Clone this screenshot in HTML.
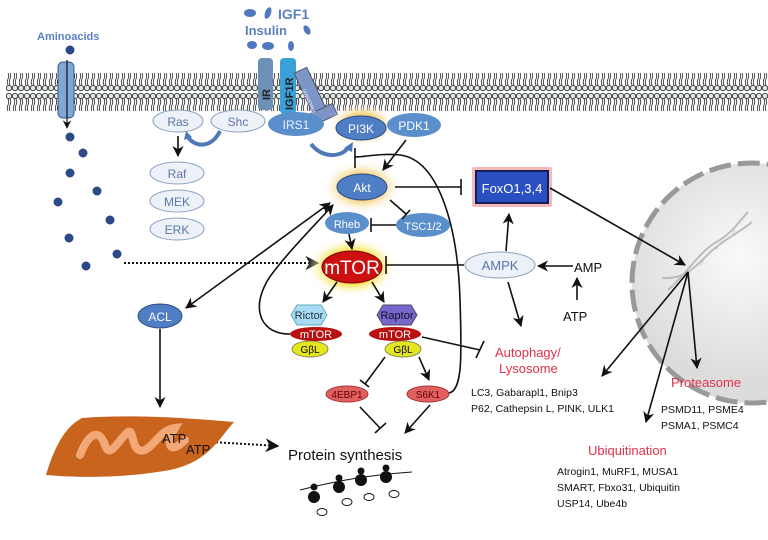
<!DOCTYPE html>
<html><head><meta charset="utf-8"><style>
html,body{margin:0;padding:0;background:#fff;}
svg{display:block;font-family:"Liberation Sans",Arial,sans-serif;}
</style></head><body>
<svg width="768" height="540" viewBox="0 0 768 540" xmlns="http://www.w3.org/2000/svg">
<defs>
<pattern id="lipid" x="0" y="0" width="6" height="46" patternUnits="userSpaceOnUse">
<circle cx="3" cy="4" r="2.7" fill="#dfe9e2" stroke="#333" stroke-width="0.9"/>
<path d="M2 7 q1.5 3 0 6 q-1.5 3 0 6 M4 7 q1.5 3 0 6 q-1.5 3 0 6" stroke="#222" stroke-width="0.8" fill="none"/>
<path d="M2 27 q1.5 3 0 6 q-1.5 3 0 6 M4 27 q1.5 3 0 6 q-1.5 3 0 6" stroke="#222" stroke-width="0.8" fill="none"/>
<circle cx="3" cy="42" r="2.7" fill="#dfe9e2" stroke="#333" stroke-width="0.9"/>
</pattern>
<marker id="ar" viewBox="0 0 10 10" refX="9" refY="5" markerWidth="7" markerHeight="7" orient="auto-start-reverse"><path d="M0 0 L10 5 L0 10 L3 5z" fill="#111"/></marker>
<radialGradient id="glow"><stop offset="0.5" stop-color="#f5d27a"/><stop offset="1" stop-color="#fff" stop-opacity="0"/></radialGradient>
<radialGradient id="glow2"><stop offset="0.55" stop-color="#f7e040"/><stop offset="1" stop-color="#fff" stop-opacity="0"/></radialGradient>
<radialGradient id="nuc" cx="0.45" cy="0.4"><stop offset="0" stop-color="#fafafa"/><stop offset="1" stop-color="#dcdcdc"/></radialGradient>
</defs>
<rect x="6" y="70" width="762" height="46" fill="url(#lipid)"/>
<circle cx="752" cy="283" r="120" fill="url(#nuc)" stroke="#999" stroke-width="5" stroke-dasharray="22 7"/>
<g stroke="#bbb" stroke-width="2" fill="none">
<path d="M668 290 C690 270 700 250 720 240 C735 230 740 220 748 212"/>
<path d="M662 278 C690 280 700 260 715 248 C730 236 740 232 752 222"/>
</g>
<g stroke="#ccc" stroke-width="1">
<line x1="675" y1="282" x2="672" y2="288"/><line x1="690" y1="272" x2="686" y2="280"/><line x1="705" y1="258" x2="700" y2="266"/><line x1="720" y1="243" x2="716" y2="250"/><line x1="735" y1="230" x2="731" y2="237"/>
</g>
<text x="37" y="40" font-size="11" font-weight="bold" fill="#5b80c0">Aminoacids</text>
<rect x="58" y="62" width="16" height="56" rx="5" fill="#7fa8d6" stroke="#3a5a88"/>
<line x1="67" y1="60" x2="67" y2="128" stroke="#111" stroke-width="1.2" marker-end="url(#ar)"/>
<g fill="#2c4a86">
<circle cx="70" cy="50" r="4.5"/><circle cx="70" cy="137" r="4.5"/><circle cx="83" cy="153" r="4.5"/><circle cx="70" cy="173" r="4.5"/><circle cx="97" cy="191" r="4.5"/><circle cx="58" cy="202" r="4.5"/><circle cx="110" cy="220" r="4.5"/><circle cx="69" cy="238" r="4.5"/><circle cx="117" cy="254" r="4.5"/><circle cx="86" cy="266" r="4.5"/>
</g>
<line x1="124" y1="263" x2="318" y2="263" stroke="#111" stroke-width="2" stroke-dasharray="2 2" marker-end="url(#ar)"/>
<text x="278" y="19" font-size="14" font-weight="bold" fill="#5b80c0">IGF1</text>
<text x="245" y="35" font-size="13" font-weight="bold" fill="#5b80c0">Insulin</text>
<g fill="#4f78c0">
<ellipse cx="250" cy="13" rx="6" ry="4"/><ellipse cx="268" cy="13" rx="3" ry="6" transform="rotate(20 268 13)"/><ellipse cx="307" cy="30" rx="3" ry="5" transform="rotate(-30 307 30)"/><ellipse cx="252" cy="45" rx="5" ry="4"/><ellipse cx="268" cy="46" rx="6" ry="4"/><ellipse cx="291" cy="46" rx="3" ry="5"/>
</g>
<rect x="258" y="58" width="15" height="52" rx="4" fill="#6d8fb8"/>
<text transform="translate(270 100) rotate(-90)" font-size="11" font-weight="bold" fill="#222">IR</text>
<rect x="280" y="58" width="16" height="56" rx="4" fill="#3aa0d8"/>
<text transform="translate(293 110) rotate(-90)" font-size="11" font-weight="bold" fill="#222">IGF1R</text>
<rect x="304" y="68" width="14" height="50" fill="#7e95c8" stroke="#556" transform="rotate(-25 311 93)"/>
<rect x="312" y="108" width="24" height="12" fill="#7e95c8" stroke="#556" transform="rotate(-25 324 114)"/>
<text transform="translate(316 112) rotate(-115)" font-size="6" fill="#eef">Pleckstrin</text>
<g font-size="12" text-anchor="middle">
<ellipse cx="178" cy="121" rx="25" ry="11" fill="#edf1f8" stroke="#8aa0c0"/><text x="178" y="126" fill="#5b76a8">Ras</text>
<ellipse cx="238" cy="121" rx="27" ry="11" fill="#edf1f8" stroke="#8aa0c0"/><text x="238" y="126" fill="#5b76a8">Shc</text>
<ellipse cx="296" cy="124" rx="28" ry="12" fill="#5b8fcc"/><text x="296" y="129" fill="#e8f0ff">IRS1</text>
<ellipse cx="362" cy="125" rx="34" ry="22" fill="url(#glow)"/>
<ellipse cx="361" cy="128" rx="25" ry="12" fill="#4f7ec4" stroke="#2c4a86"/><text x="361" y="133" fill="#fff">PI3K</text>
<ellipse cx="414" cy="125" rx="27" ry="12" fill="#5b8fcc"/><text x="414" y="130" fill="#fff">PDK1</text>
<ellipse cx="177" cy="173" rx="27" ry="11" fill="#edf1f8" stroke="#8aa0c0"/><text x="177" y="178" fill="#5b76a8">Raf</text>
<ellipse cx="177" cy="201" rx="27" ry="11" fill="#edf1f8" stroke="#8aa0c0"/><text x="177" y="206" fill="#5b76a8">MEK</text>
<ellipse cx="177" cy="229" rx="27" ry="11" fill="#edf1f8" stroke="#8aa0c0"/><text x="177" y="234" fill="#5b76a8">ERK</text>
<ellipse cx="362" cy="187" rx="40" ry="27" fill="url(#glow)"/>
<ellipse cx="362" cy="187" rx="25" ry="13" fill="#4f7ec4" stroke="#2c4a86"/><text x="362" y="192" fill="#fff">Akt</text>
<ellipse cx="347" cy="223" rx="22" ry="11" fill="#5b8fcc"/><text x="347" y="228" fill="#fff" font-size="11">Rheb</text>
<ellipse cx="423" cy="225" rx="27" ry="12" fill="#5b8fcc"/><text x="423" y="230" fill="#fff" font-size="11">TSC1/2</text>
<ellipse cx="160" cy="316" rx="22" ry="12" fill="#4f7ec4" stroke="#2c4a86"/><text x="160" y="321" fill="#fff">ACL</text>
<ellipse cx="500" cy="265" rx="35" ry="13" fill="#edf1f8" stroke="#8aa0c0"/><text x="500" y="270" fill="#5b76a8" font-size="13">AMPK</text>
</g>
<path d="M220 131 C212 148 195 148 188 137" stroke="#4f78b8" stroke-width="4" fill="none"/>
<path d="M186 131 l-2 9 l8 -3z" fill="#4f78b8"/>
<path d="M311 144 C322 158 340 158 348 148" stroke="#4f78b8" stroke-width="4" fill="none"/>
<path d="M353 142 l-1 10 l-8 -4z" fill="#4f78b8"/>
<rect x="472" y="167" width="80" height="40" rx="2" fill="#f4b8b8"/>
<rect x="476" y="171" width="72" height="32" fill="#2a4fc0" stroke="#12205a" stroke-width="2"/>
<text x="512" y="193" font-size="13" fill="#fff" text-anchor="middle">FoxO1,3,4</text>
<ellipse cx="352" cy="267" rx="46" ry="30" fill="url(#glow2)"/>
<ellipse cx="352" cy="267" rx="30" ry="16" fill="#cc1010" stroke="#700"/>
<text x="352" y="274" font-size="19" fill="#fff" text-anchor="middle">mTOR</text>
<polygon points="297,305 321,305 327,315 321,325 297,325 291,315" fill="#a8dcf5" stroke="#6ab"/>
<text x="309" y="319" font-size="11" text-anchor="middle" fill="#234">Rictor</text>
<polygon points="383,305 411,305 417,315 411,325 383,325 377,315" fill="#7766cc" stroke="#546"/>
<text x="397" y="319" font-size="11" text-anchor="middle" fill="#112">Raptor</text>
<ellipse cx="310" cy="349" rx="18" ry="8" fill="#e6e61e" stroke="#885"/><text x="310" y="353" font-size="10" text-anchor="middle">GβL</text>
<ellipse cx="403" cy="349" rx="18" ry="8" fill="#e6e61e" stroke="#885"/><text x="403" y="353" font-size="10" text-anchor="middle">GβL</text>
<ellipse cx="316" cy="334" rx="26" ry="7" fill="#b81010"/><text x="316" y="338" font-size="11" fill="#fff" text-anchor="middle">mTOR</text>
<ellipse cx="395" cy="334" rx="26" ry="7" fill="#b81010"/><text x="395" y="338" font-size="11" fill="#fff" text-anchor="middle">mTOR</text>
<ellipse cx="347" cy="394" rx="21" ry="8" fill="#e06060" stroke="#a33"/><text x="347" y="398" font-size="10" fill="#600" text-anchor="middle">4EBP1</text>
<ellipse cx="428" cy="394" rx="21" ry="8" fill="#e06060" stroke="#a33"/><text x="428" y="398" font-size="10" fill="#600" text-anchor="middle">S6K1</text>
<g stroke="#111" stroke-width="1.6" fill="none">
<line x1="178" y1="136" x2="178" y2="156" marker-end="url(#ar)"/>
<line x1="406" y1="140" x2="383" y2="170" marker-end="url(#ar)"/>
<line x1="395" y1="187" x2="461" y2="187"/><line x1="461" y1="179" x2="461" y2="195"/>
<line x1="390" y1="200" x2="406" y2="214"/><line x1="402" y1="219" x2="410" y2="210"/>
<line x1="396" y1="225" x2="371" y2="225"/><line x1="371" y1="218" x2="371" y2="232"/>
<line x1="349" y1="234" x2="352" y2="249" marker-end="url(#ar)"/>
<line x1="464" y1="265" x2="386" y2="265"/><line x1="386" y1="256" x2="386" y2="274"/>
<line x1="573" y1="266" x2="538" y2="266" marker-end="url(#ar)"/>
<line x1="577" y1="300" x2="577" y2="278" marker-end="url(#ar)"/>
<line x1="506" y1="251" x2="509" y2="214" marker-end="url(#ar)"/>
<line x1="508" y1="282" x2="521" y2="326" marker-end="url(#ar)"/>
<line x1="337" y1="282" x2="323" y2="302" marker-end="url(#ar)"/>
<line x1="372" y1="282" x2="384" y2="302" marker-end="url(#ar)"/>
<line x1="422" y1="337" x2="480" y2="350"/><line x1="484" y1="341" x2="476" y2="358"/>
<line x1="385" y1="357" x2="365" y2="384"/><line x1="360" y1="380" x2="369" y2="387"/>
<line x1="419" y1="357" x2="429" y2="380" marker-end="url(#ar)"/>
<line x1="360" y1="407" x2="380" y2="428"/><line x1="375" y1="433" x2="386" y2="423"/>
<line x1="430" y1="405" x2="405" y2="433" marker-end="url(#ar)"/>
<line x1="160" y1="329" x2="160" y2="407" marker-end="url(#ar)"/>
<line x1="330" y1="203" x2="186" y2="308" marker-start="url(#ar)" marker-end="url(#ar)"/>
<path d="M290 334 C255 334 250 300 275 270 C290 250 315 225 333 205" marker-end="url(#ar)"/>
<path d="M449 393 C462 390 462 360 460 300 C458 230 440 160 400 155 C380 153 365 157 355 157"/>
<line x1="355" y1="148" x2="355" y2="168"/>
<line x1="550" y1="188" x2="685" y2="265" marker-end="url(#ar)"/>
<line x1="688" y1="272" x2="602" y2="376" marker-end="url(#ar)"/>
<line x1="688" y1="272" x2="646" y2="422" marker-end="url(#ar)"/>
<line x1="688" y1="272" x2="697" y2="368" marker-end="url(#ar)"/>
</g>
<line x1="212" y1="442" x2="278" y2="446" stroke="#111" stroke-width="2" stroke-dasharray="2 2" marker-end="url(#ar)"/>
<g font-size="13" fill="#111">
<text x="574" y="272">AMP</text>
<text x="563" y="321">ATP</text>
</g>
<text x="288" y="460" font-size="15" fill="#111">Protein synthesis</text>
<g font-size="13" fill="#e0304a">
<text x="495" y="357">Autophagy/</text>
<text x="499" y="373">Lysosome</text>
<text x="671" y="387">Proteasome</text>
<text x="588" y="455">Ubiquitination</text>
</g>
<g font-size="10.5" fill="#111">
<text x="471" y="396">LC3, Gabarapl1, Bnip3</text>
<text x="471" y="412">P62, Cathepsin L, PINK, ULK1</text>
<text x="661" y="413">PSMD11, PSME4</text>
<text x="661" y="429">PSMA1, PSMC4</text>
<text x="557" y="475">Atrogin1, MuRF1, MUSA1</text>
<text x="557" y="491">SMART, Fbxo31, Ubiquitin</text>
<text x="557" y="507">USP14, Ube4b</text>
</g>
<path d="M82 418 C130 414 190 418 234 422 C218 440 208 462 170 470 C125 478 80 478 46 475 C52 455 62 428 82 418z" fill="#c8641e"/>
<path d="M80 455 C90 430 100 430 105 445 C110 460 118 440 128 432 C135 428 130 455 145 450 C155 445 160 430 175 428 C165 445 170 455 185 440" stroke="#f3a878" stroke-width="8" fill="none" stroke-linecap="round"/>
<text x="162" y="443" font-size="13" fill="#111">ATP</text>
<text x="186" y="454" font-size="13" fill="#111">ATP</text>
<path d="M300 490 C340 480 370 475 412 472" stroke="#111" fill="none"/>
<g fill="#111">
<circle cx="314" cy="497" r="6"/><circle cx="339" cy="487" r="6"/><circle cx="361" cy="480" r="6"/><circle cx="386" cy="477" r="6"/>
<circle cx="314" cy="487" r="3.5"/><circle cx="339" cy="478" r="3.5"/><circle cx="361" cy="471" r="3.5"/><circle cx="386" cy="468" r="3.5"/>
</g>
<g stroke="#111" fill="none" stroke-width="0.9">
<ellipse cx="322" cy="512" rx="5" ry="3.5"/><ellipse cx="347" cy="502" rx="5" ry="3.5"/><ellipse cx="369" cy="497" rx="5" ry="3.5"/><ellipse cx="394" cy="494" rx="5" ry="3.5"/>
</g>
</svg>
</body></html>
